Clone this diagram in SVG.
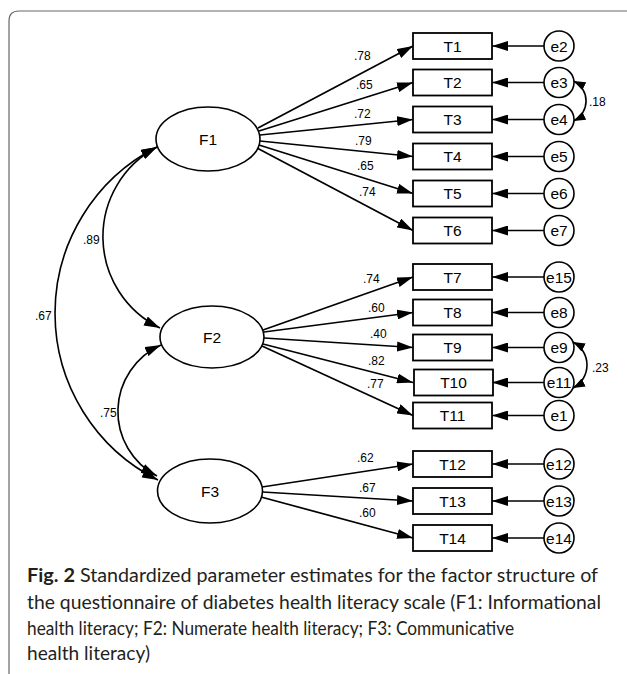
<svg xmlns="http://www.w3.org/2000/svg" width="627" height="674" viewBox="0 0 627 674">
<style>
.box{fill:#fff;stroke:#000;stroke-width:1.8}
.ell{fill:#fff;stroke:#000;stroke-width:1.6}
.lbl{font-family:"Liberation Sans",Arial,sans-serif;font-size:15.5px;fill:#000;text-anchor:middle}
.coef{font-family:"Liberation Sans",Arial,sans-serif;font-size:12px;fill:#000}
.path{fill:none;stroke:#000;stroke-width:1.7;marker-end:url(#ah)}
.cov{fill:none;stroke:#000;stroke-width:1.6;marker-start:url(#ah);marker-end:url(#ah)}
.cov2{fill:none;stroke:#000;stroke-width:1.6;marker-start:url(#as);marker-end:url(#as)}
.cap{font-family:Lato,"Open Sans",sans-serif;font-size:18.5px;fill:#231f20}
</style>
<defs>
<marker id="ah" markerUnits="userSpaceOnUse" markerWidth="16" markerHeight="10" refX="16" refY="5" orient="auto-start-reverse"><path d="M0,0 L16,5 L0,10 z" fill="#000"/></marker>
<marker id="as" markerUnits="userSpaceOnUse" markerWidth="12" markerHeight="9" refX="12" refY="4.5" orient="auto-start-reverse"><path d="M0,0 L12,4.5 L0,9 z" fill="#000"/></marker>
</defs>
<rect width="627" height="674" fill="#fff"/>
<path d="M9 674 L9 21 Q9 11 19 11 L627 11" fill="none" stroke="#666" stroke-width="1.2"/>

<g id="connectors">
<path class="path" d="M258 128 L413 46"/>
<path class="path" d="M259 131 L413 82.5"/>
<path class="path" d="M260 135 L413 119.5"/>
<path class="path" d="M260 141 L413 156.5"/>
<path class="path" d="M259 145 L413 193.5"/>
<path class="path" d="M257 148 L413 230.5"/>
<path class="path" d="M263 330 L413 277"/>
<path class="path" d="M264 332 L413 312.5"/>
<path class="path" d="M264 338 L413 347.5"/>
<path class="path" d="M263 344 L413 382.5"/>
<path class="path" d="M262 346 L413 415.5"/>
<path class="path" d="M262 487 L413 464"/>
<path class="path" d="M262.5 492 L413 501"/>
<path class="path" d="M261 497 L413 538"/>
<path class="path" d="M544 46 L492 46"/>
<path class="path" d="M544 82.5 L492 82.5"/>
<path class="path" d="M544 119.5 L492 119.5"/>
<path class="path" d="M544 156.5 L492 156.5"/>
<path class="path" d="M544 193.5 L492 193.5"/>
<path class="path" d="M544 230.5 L492 230.5"/>
<path class="path" d="M544 277 L492 277"/>
<path class="path" d="M544 312.5 L492 312.5"/>
<path class="path" d="M544 347.5 L492 347.5"/>
<path class="path" d="M544 382.5 L492 382.5"/>
<path class="path" d="M544 415.5 L492 415.5"/>
<path class="path" d="M544 464 L492 464"/>
<path class="path" d="M544 501 L492 501"/>
<path class="path" d="M544 538 L492 538"/>
<path class="cov" d="M157 147 A101.5 101.5 0 0 0 160 328"/>
<path class="cov" d="M157 147 A186.5 186.5 0 0 0 158 480"/>
<path class="cov" d="M161 345 A72.8 72.8 0 0 0 157 476"/>
<path class="cov2" d="M573.5 81 A22.2 22.2 0 0 1 573.5 121"/>
<path class="cov2" d="M573 342 A25.9 25.9 0 0 1 573 388"/>
<text class="coef" x="354" y="60">.78</text>
<text class="coef" x="356" y="89">.65</text>
<text class="coef" x="354" y="118">.72</text>
<text class="coef" x="355" y="145">.79</text>
<text class="coef" x="357" y="170">.65</text>
<text class="coef" x="359" y="196">.74</text>
<text class="coef" x="363" y="283">.74</text>
<text class="coef" x="368" y="311.5">.60</text>
<text class="coef" x="370" y="338">.40</text>
<text class="coef" x="368" y="365">.82</text>
<text class="coef" x="367" y="388">.77</text>
<text class="coef" x="357" y="462">.62</text>
<text class="coef" x="359" y="491.5">.67</text>
<text class="coef" x="359" y="516.5">.60</text>
<text class="coef" x="83" y="244">.89</text>
<text class="coef" x="35" y="320">.67</text>
<text class="coef" x="100" y="417">.75</text>
<text class="coef" x="589" y="106">.18</text>
<text class="coef" x="592" y="371.5">.23</text>
</g>

<g id="F1"><ellipse class="ell" cx="208" cy="139" rx="52" ry="32"/><text class="lbl" x="208" y="144.5">F1</text></g>
<g id="F2"><ellipse class="ell" cx="212" cy="337" rx="52" ry="31"/><text class="lbl" x="212" y="342.5">F2</text></g>
<g id="F3"><ellipse class="ell" cx="210" cy="491" rx="52.5" ry="32"/><text class="lbl" x="210" y="496.5">F3</text></g>

<g id="T1"><rect class="box" x="413" y="33" width="79" height="26"/><text class="lbl" x="452.5" y="51.5">T1</text></g>
<g id="T2"><rect class="box" x="413" y="69.5" width="79" height="26"/><text class="lbl" x="452.5" y="88">T2</text></g>
<g id="T3"><rect class="box" x="413" y="106.5" width="79" height="26"/><text class="lbl" x="452.5" y="125">T3</text></g>
<g id="T4"><rect class="box" x="413" y="143.5" width="79" height="26"/><text class="lbl" x="452.5" y="162">T4</text></g>
<g id="T5"><rect class="box" x="413" y="180.5" width="79" height="26"/><text class="lbl" x="452.5" y="199">T5</text></g>
<g id="T6"><rect class="box" x="413" y="217.5" width="79" height="26"/><text class="lbl" x="452.5" y="236">T6</text></g>
<g id="T7"><rect class="box" x="413" y="264" width="79" height="26"/><text class="lbl" x="452.5" y="282.5">T7</text></g>
<g id="T8"><rect class="box" x="413" y="299.5" width="79" height="26"/><text class="lbl" x="452.5" y="318">T8</text></g>
<g id="T9"><rect class="box" x="413" y="334.5" width="79" height="26"/><text class="lbl" x="452.5" y="353">T9</text></g>
<g id="T10"><rect class="box" x="414" y="369.5" width="79" height="26"/><text class="lbl" x="453.5" y="388">T10</text></g>
<g id="T11"><rect class="box" x="413" y="402.5" width="79" height="26"/><text class="lbl" x="452.5" y="421">T11</text></g>
<g id="T12"><rect class="box" x="413" y="451" width="79" height="26"/><text class="lbl" x="452.5" y="469.5">T12</text></g>
<g id="T13"><rect class="box" x="413" y="488" width="79" height="26"/><text class="lbl" x="452.5" y="506.5">T13</text></g>
<g id="T14"><rect class="box" x="413" y="525" width="79" height="26"/><text class="lbl" x="452.5" y="543.5">T14</text></g>

<g id="e2"><circle class="ell" cx="559" cy="46" r="15"/><text class="lbl" x="559" y="51.5">e2</text></g>
<g id="e3"><circle class="ell" cx="559" cy="82.5" r="15"/><text class="lbl" x="559" y="88">e3</text></g>
<g id="e4"><circle class="ell" cx="559" cy="119.5" r="15"/><text class="lbl" x="559" y="125">e4</text></g>
<g id="e5"><circle class="ell" cx="559" cy="156.5" r="15"/><text class="lbl" x="559" y="162">e5</text></g>
<g id="e6"><circle class="ell" cx="559" cy="193.5" r="15"/><text class="lbl" x="559" y="199">e6</text></g>
<g id="e7"><circle class="ell" cx="559" cy="230.5" r="15"/><text class="lbl" x="559" y="236">e7</text></g>
<g id="e15"><circle class="ell" cx="559" cy="277" r="15"/><text class="lbl" x="559" y="282.5">e15</text></g>
<g id="e8"><circle class="ell" cx="559" cy="312.5" r="15"/><text class="lbl" x="559" y="318">e8</text></g>
<g id="e9"><circle class="ell" cx="559" cy="347.5" r="15"/><text class="lbl" x="559" y="353">e9</text></g>
<g id="e11"><circle class="ell" cx="559" cy="382.5" r="15"/><text class="lbl" x="559" y="388">e11</text></g>
<g id="e1"><circle class="ell" cx="559" cy="415.5" r="15"/><text class="lbl" x="559" y="421">e1</text></g>
<g id="e12"><circle class="ell" cx="559" cy="464" r="15"/><text class="lbl" x="559" y="469.5">e12</text></g>
<g id="e13"><circle class="ell" cx="559" cy="501" r="15"/><text class="lbl" x="559" y="506.5">e13</text></g>
<g id="e14"><circle class="ell" cx="559" cy="538" r="15"/><text class="lbl" x="559" y="543.5">e14</text></g>

<g id="caption">
<text class="cap" x="27" y="582" font-weight="bold" textLength="48" lengthAdjust="spacingAndGlyphs">Fig. 2</text>
<text class="cap" x="80" y="582" textLength="518" lengthAdjust="spacingAndGlyphs">Standardized parameter estimates for the factor structure of</text>
<text class="cap" x="27" y="608.5" textLength="574" lengthAdjust="spacingAndGlyphs">the questionnaire of diabetes health literacy scale (F1: Informational</text>
<text class="cap" x="27" y="634.5" textLength="487" lengthAdjust="spacingAndGlyphs">health literacy; F2: Numerate health literacy; F3: Communicative</text>
<text class="cap" x="27" y="660" textLength="123" lengthAdjust="spacingAndGlyphs">health literacy)</text>
</g>
</svg>
